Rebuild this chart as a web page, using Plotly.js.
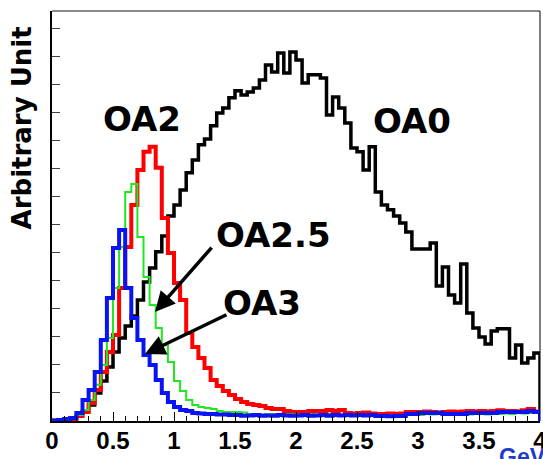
<!DOCTYPE html>
<html><head><meta charset="utf-8">
<script src="https://cdn.plot.ly/plotly-3.0.1.min.js"></script>
<style>html,body{margin:0;padding:0;background:#fff;} #chart{width:543px;height:459px;}</style>
</head><body><div id="chart"></div>
<script>
// bin width of the histograms (GeV), 80 bins from 0 to 4 GeV
const binWidth = 0.05;
const xTickVals = [0, 0.5, 1, 1.5, 2, 2.5, 3, 3.5, 4];
const xTickText = ['0', '0.5', '1', '1.5', '2', '2.5', '3', '3.5', '4'];

// OA0 (black)
const oa0 = [0.2,0.4,0.7,1.1,1.8,3.2,5.7,10.0,14.3,19.3,
  24.6,29.6,33.9,37.5,43.2,49.6,54.6,60.4,66.1,73.2,
  77.1,82.5,88.6,93.2,98.6,100.7,105.4,110.0,111.8,115.4,
  117.9,116.4,117.5,118.9,121.8,127.1,124.6,131.4,124.3,131.8,
  128.9,120.7,123.6,123.6,122.5,109.3,115.7,111.8,106.4,97.5,
  96.1,89.6,97.9,81.8,77.1,75.4,73.2,70.7,67.5,61.4,
  61.4,61.4,63.6,48.2,55.0,45.0,42.1,56.1,38.6,33.2,
  30.0,27.5,32.1,32.9,32.9,22.5,27.1,20.7,22.5,24.3];
// OA2 (red)
const oa2 = [0.1,0.2,0.4,0.7,1.8,3.2,6.4,11.1,17.5,24.6,
  30.7,47.5,62.1,77.1,89.6,96.1,97.9,90.4,72.5,60.0,
  49.3,43.2,31.4,26.4,22.5,18.9,14.6,12.5,10.7,9.3,
  7.9,6.8,6.1,5.7,5.4,4.6,4.3,4.3,3.6,3.2,
  3.2,3.2,3.6,3.6,3.6,3.9,3.6,3.9,2.9,2.7,
  2.9,3.0,2.7,2.5,2.5,2.7,2.5,2.7,3.2,3.2,
  3.2,3.4,3.2,3.0,3.2,3.4,3.2,3.4,3.6,3.4,
  3.6,3.4,3.6,3.8,3.6,3.6,3.4,3.8,4.3,3.4];
// OA2.5 (green)
const oa25 = [0.1,0.25,0.5,1.1,2.1,3.9,7.5,12.9,20.0,29.6,
  47.5,62.1,81.8,84.6,65.7,51.4,41.4,33.2,27.1,21.1,
  14.3,10.7,7.5,5.7,5.0,4.6,4.3,3.6,3.2,3.2,
  3.2,3.0,2.5,2.5,2.3,2.5,2.5,2.3,2.5,2.5,
  2.3,2.5,2.5,2.3,2.5,2.5,2.1,2.1,2.0,2.1,
  2.1,2.0,2.1,2.1,1.9,2.1,2.1,2.0,2.1,2.1,
  2.1,2.5,2.3,2.5,2.5,2.3,2.5,2.5,2.3,2.5,
  2.5,2.3,2.5,2.5,2.7,2.5,2.9,2.7,2.9,3.2];
// OA3 (blue)
const oa3 = [0.2,0.4,0.7,1.1,2.9,7.5,11.1,17.5,28.9,43.9,
  61.8,68.2,47.5,36.8,28.9,23.6,20.0,14.6,10.0,6.8,
  5.0,3.9,3.6,2.9,2.7,2.5,2.5,2.3,2.3,2.1,
  2.1,1.9,2.0,2.1,1.9,2.0,1.9,2.1,2.0,1.9,
  2.0,2.1,1.9,2.0,2.1,1.9,2.1,2.0,2.1,2.0,
  2.1,2.0,2.1,1.8,1.8,1.7,1.8,1.8,2.5,2.5,
  2.9,2.9,2.9,2.9,2.5,2.5,2.5,2.5,2.9,2.9,
  2.9,2.9,2.9,3.2,3.2,3.2,3.2,3.2,3.6,3.2];

function stepTrace(vals, color, width, name) {
  const x = [], y = [];
  vals.forEach((v, i) => { x.push(i * binWidth); y.push(v); });
  const end = vals.length * binWidth;
  x.push(end); y.push(vals[vals.length - 1]);
  x.push(end); y.push(0);
  return {type: 'scatter', mode: 'lines', x: x, y: y, name: name,
          line: {color: color, width: width, shape: 'hv'}, hoverinfo: 'skip'};
}

const traces = [
  stepTrace(oa0, '#000000', 3.5, 'OA0'),
  stepTrace(oa2, '#ff0000', 4, 'OA2'),
  stepTrace(oa25, '#20e820', 2, 'OA2.5'),
  stepTrace(oa3, '#0a14f0', 4, 'OA3')
];

const labFont = {family: 'DejaVu Sans', size: 34, color: '#000'};
const layout = {
  width: 543, height: 459,
  margin: {l: 52, r: 3, t: 11, b: 38},
  paper_bgcolor: '#fff', plot_bgcolor: '#fff',
  showlegend: false,
  xaxis: {
    range: [0, 4], tickvals: xTickVals, ticktext: xTickText.map(t => '<b>' + t + '</b>'),
    ticklabeloverflow: 'allow', ticklabelstandoff: -3,
    ticks: 'inside', ticklen: 9, tickwidth: 1, tickcolor: '#000',
    minor: {dtick: 0.1, ticks: 'inside', ticklen: 5, tickwidth: 1, tickcolor: '#000'},
    showline: true, linecolor: '#000', linewidth: 2, showgrid: false, zeroline: false,
    tickfont: {family: 'Liberation Sans, Arial, sans-serif', size: 24, color: '#000'}
  },
  yaxis: {
    range: [0, 146.4], dtick: 10, tick0: 0, showticklabels: false,
    ticks: 'inside', ticklen: 8, tickwidth: 1, tickcolor: '#444',
    showline: true, linecolor: '#000', linewidth: 2, showgrid: false, zeroline: false
  },
  shapes: [
    {type: 'line', xref: 'paper', yref: 'paper', x0: 0, x1: 1, y0: 1, y1: 1, line: {color: '#888', width: 2}},
    {type: 'line', xref: 'paper', yref: 'paper', x0: 1, x1: 1, y0: 0, y1: 1, line: {color: '#000', width: 1}}
  ],
  annotations: [
    {xref: 'paper', yref: 'paper', x: -0.0607, y: 0.7146, text: '<b>Arbitrary Unit</b>', textangle: -90,
     showarrow: false, xanchor: 'center', yanchor: 'middle', font: {family: 'DejaVu Sans', size: 26, color: '#000'}},
    {xref: 'x', yref: 'y', x: 0.738, y: 107.9, text: '<b>OA2</b>', showarrow: false, font: labFont},
    {xref: 'x', yref: 'y', x: 2.951, y: 107.0, text: '<b>OA0</b>', showarrow: false, font: labFont},
    {xref: 'x', yref: 'y', x: 1.816, y: 66.4, text: '<b>OA2.5</b>', showarrow: false, font: labFont},
    {xref: 'x', yref: 'y', x: 1.725, y: 42.3, text: '<b>OA3</b>', showarrow: false, font: labFont},
    {xref: 'x', yref: 'y', x: 0.844, y: 38.9, ax: 58, ay: -66, text: '', showarrow: true,
     arrowhead: 2, arrowsize: 1.15, arrowwidth: 3.5, arrowcolor: '#000', standoff: 0},
    {xref: 'x', yref: 'y', x: 0.762, y: 23.9, ax: 83, ay: -40, text: '', showarrow: true,
     arrowhead: 2, arrowsize: 1.15, arrowwidth: 3.5, arrowcolor: '#000', standoff: 0},
    {xref: 'paper', yref: 'paper', x: 0.912, y: -0.052, xanchor: 'left', yanchor: 'top', text: '<b>GeV</b>',
     showarrow: false, font: {family: 'Liberation Sans, Arial, sans-serif', size: 23, color: '#1e3cc8'}}
  ]
};

Plotly.newPlot('chart', traces, layout, {displayModeBar: false, staticPlot: true});
</script>
</body></html>
